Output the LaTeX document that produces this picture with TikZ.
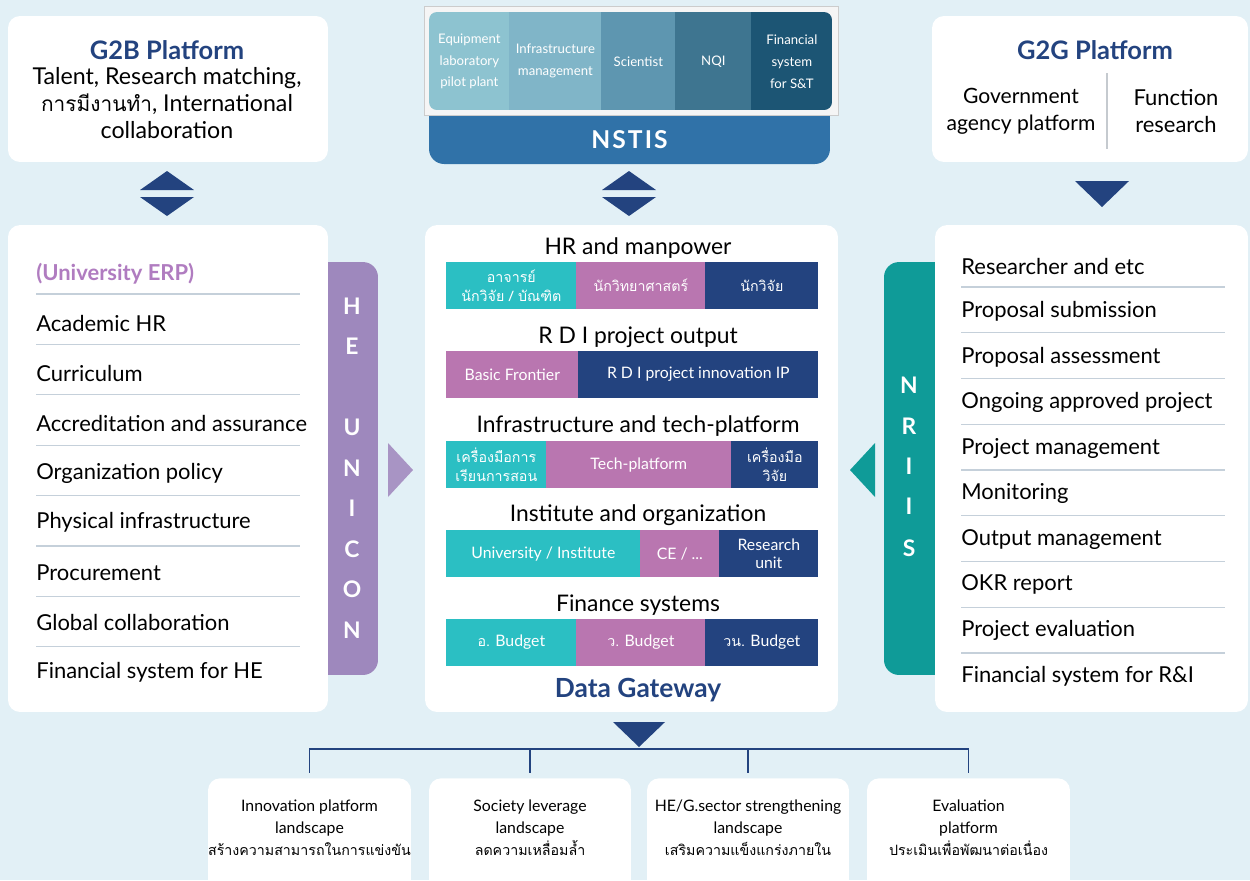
\documentclass[tikz,border=0pt]{standalone}
\usepackage{fontspec}
\setmainfont{Lato}
\newfontfamily\thai[Script=Thai,Scale=0.9]{Loma}
\usepackage{tikz}

% Couleurs du schéma
\definecolor{fond}{RGB}{226,240,246}
\definecolor{marine}{RGB}{35,67,127}
\definecolor{turq}{RGB}{43,191,195}
\definecolor{mauve}{RGB}{185,118,176}
\definecolor{lilas}{RGB}{158,136,189}
\definecolor{vertd}{RGB}{15,155,152}
\definecolor{erp}{RGB}{176,124,192}
\definecolor{bleuns}{RGB}{48,114,168}
\definecolor{gris}{RGB}{197,208,218}
\definecolor{celA}{RGB}{141,195,208}
\definecolor{celB}{RGB}{128,181,200}
\definecolor{celC}{RGB}{94,150,176}
\definecolor{celD}{RGB}{62,117,144}
\definecolor{celE}{RGB}{28,85,116}

\begin{document}
\begin{tikzpicture}[x=0.02cm,y=-0.02cm,
    boite/.style={fill=white,rounded corners=0.24cm,inner sep=0pt},
    titre/.style={font=\fontsize{14.5}{17}\selectfont\bfseries,text=marine,inner sep=0pt},
    texte/.style={font=\fontsize{13.2}{15.4}\selectfont,align=center,inner sep=0pt},
    liste/.style={font=\fontsize{12.5}{15}\selectfont,anchor=west,inner sep=0pt},
    filet/.style={draw=gris,line width=0.6pt},
    rang/.style={font=\fontsize{13}{15}\selectfont,inner sep=0pt},
    cell/.style={anchor=north west,text=white,font=\fontsize{9}{10.5}\selectfont,align=center,inner sep=0pt,minimum height=0.93cm},
    haut/.style={anchor=north west,text=white,font=\fontsize{7.5}{12.5}\selectfont,align=center,inner sep=0pt,minimum height=1.96cm},
    lettre/.style={text=white,font=\fontsize{13}{15}\selectfont\bfseries,inner sep=0pt},
    bas/.style={font=\fontsize{9}{12.5}\selectfont,align=center,inner sep=0pt},
    pointe/.style={fill=marine},
    lien/.style={draw=marine,line width=0.85pt,shorten >=0.1cm}]

  % Fond
  \useasboundingbox (0,0) rectangle (1250,880);
  \clip (0,0) rectangle (1250,880);
  \fill[fond] (0,0) rectangle (1250,880);

  % Bandeaux latéraux (sous les boîtes)
  \node[fill=lilas,rounded corners=0.3cm,minimum width=1.32cm,minimum height=8.26cm] (HeUn) at (345,468.5) {};
  \node[fill=vertd,rounded corners=0.3cm,minimum width=1.32cm,minimum height=8.26cm] (Nriis) at (917,468.5) {};

  % Boîtes blanches
  \node[boite,minimum width=6.4cm,minimum height=2.92cm] (G2B) at (168,89) {};
  \node[boite,minimum width=6.32cm,minimum height=2.92cm] (G2G) at (1090,89) {};
  \node[boite,minimum width=6.4cm,minimum height=9.74cm] (Erp) at (168,468.5) {};
  \node[boite,minimum width=8.26cm,minimum height=9.74cm] (Gw) at (631.5,468.5) {};
  \node[boite,minimum width=6.26cm,minimum height=9.74cm] (Ris) at (1091.5,468.5) {};

  % G2B
  \node[titre] (G2B_t) at (167,50) {G2B Platform};
  \node[texte] (G2B_x) at (167,103) {Talent, Research matching,\\{\thai การมีงานทำ}, International\\collaboration};

  % G2G
  \node[titre] (G2G_t) at (1095,50) {G2G Platform};
  \node[texte,font=\fontsize{12}{15.4}\selectfont] (G2G_a) at (1021,111) {Government\\agency platform};
  \node[texte,font=\fontsize{12.5}{15.4}\selectfont] (G2G_b) at (1176,111) {Function\\research};
  \draw[draw=gris!80!black!60,line width=0.6pt] (1107,73) -- (1107,149);

  % NSTIS
  \node[fill=bleuns,rounded corners=0.3cm,minimum width=8.02cm,minimum height=1.28cm,inner sep=0pt] (NSTIS) at (629.5,132) {};
  \node[fill=black!4,draw=black!20,minimum width=8.28cm,minimum height=2.18cm,inner sep=0pt] (Cadre) at (631,60.5) {};
  \node[text=white,font=\fontsize{14}{16}\selectfont\bfseries,inner sep=0pt] (NSTIS_t) at (629.5,140) {N\kern1.2pt S\kern1.2pt T\kern1.2pt I\kern1.2pt S};
  \begin{scope}
    \clip[rounded corners=0.16cm] (429,12) rectangle (832,110);
    \node[haut,fill=celA,minimum width=1.6cm] (C1) at (429,12) {Equipment\\laboratory\\pilot plant};
    \node[haut,fill=celB,minimum width=1.84cm] (C2) at (509,12) {Infrastructure\\management};
    \node[haut,fill=celC,minimum width=1.48cm] (C3) at (601,12) {Scientist};
    \node[haut,fill=celD,minimum width=1.52cm] (C4) at (675,12) {NQI};
    \node[haut,fill=celE,minimum width=1.62cm] (C5) at (751,12) {Financial\\system\\for S\&T};
  \end{scope}

  % Flèches triangulaires
  \fill[pointe] (140,190) -- (167,171) -- (194,190) -- cycle;
  \fill[pointe] (140,197) -- (194,197) -- (167,216) -- cycle;
  \fill[pointe] (602,190) -- (629,171) -- (656,190) -- cycle;
  \fill[pointe] (602,197) -- (656,197) -- (629,216) -- cycle;
  \fill[pointe] (1075,181) -- (1129,181) -- (1102,207) -- cycle;
  \fill[pointe] (613,722) -- (665,722) -- (639,747) -- cycle;
  \fill[lilas!90!white] (388,443) -- (413,470) -- (388,497) -- cycle;
  \fill[vertd] (875,443) -- (850,470) -- (875,497) -- cycle;

  % HE UNICON
  \foreach \l/\y [count=\i] in {H/306,E/346.5,U/427.5,N/468,I/508.5,C/549,O/589.5,N/630}
    \node[lettre] (U\i) at (352,\y) {\l};
  \foreach \l/\y [count=\i] in {N/385,R/426,I/466,I/506,S/548}
    \node[lettre] (R\i) at (909,\y) {\l};

  % Liste de gauche
  \node[liste,text=erp,font=\fontsize{12.5}{15}\selectfont\bfseries] (he0) at (36,274) {(University ERP)};
  \foreach \t [count=\i] in {Academic HR,Curriculum,Accreditation and assurance,Organization policy,Physical infrastructure,Procurement,Global collaboration,Financial system for HE}
    \node[liste] (he\i) at (36,274+49.75*\i) {\t};
  \foreach \k in {0,...,7}
    \draw[filet] (36,294+50.4*\k) -- (300,294+50.4*\k);

  % Liste de droite
  \foreach \t [count=\i from 0] in {Researcher and etc,Proposal submission,Proposal assessment,Ongoing approved project,Project management,Monitoring,Output management,OKR report,Project evaluation,Financial system for R\&I}
    \node[liste] (ri\i) at (961,266+45.55*\i) {\t};
  \foreach \k in {0,...,8}
    \draw[filet] (961,287+45.75*\k) -- (1225,287+45.75*\k);

  % Data Gateway
  \node[rang] (L1) at (638,248) {HR and manpower};
  \node[cell,fill=turq,minimum width=2.6cm] (L1a) at (446,262) {{\thai อาจารย์}\\{\thai นักวิจัย / บัณฑิต}};
  \node[cell,fill=mauve,minimum width=2.58cm] (L1b) at (576,262) {\thai นักวิทยาศาสตร์};
  \node[cell,fill=marine,minimum width=2.26cm] (L1c) at (705,262) {\thai นักวิจัย};

  \node[rang] (L2) at (638,337) {R D I project output};
  \node[cell,fill=mauve,minimum width=2.64cm] (L2a) at (446,351) {Basic Frontier};
  \node[cell,fill=marine,minimum width=4.8cm] (L2b) at (578,351) {R D I project innovation IP};

  \node[rang] (L3) at (638,426) {Infrastructure and tech-platform};
  \node[cell,fill=turq,minimum width=2.0cm] (L3a) at (446,441) {{\thai เครื่องมือการ}\\{\thai เรียนการสอน}};
  \node[cell,fill=mauve,minimum width=3.7cm] (L3b) at (546,441) {Tech-platform};
  \node[cell,fill=marine,minimum width=1.74cm] (L3c) at (731,441) {{\thai เครื่องมือ}\\{\thai วิจัย}};

  \node[rang] (L4) at (638,515) {Institute and organization};
  \node[cell,fill=turq,minimum width=3.88cm] (L4a) at (446,530) {University / Institute};
  \node[cell,fill=mauve,minimum width=1.58cm] (L4b) at (640,530) {CE / ...};
  \node[cell,fill=marine,minimum width=1.98cm] (L4c) at (719,530) {Research\\unit};

  \node[rang] (L5) at (638,605) {Finance systems};
  \node[cell,fill=turq,minimum width=2.6cm] (L5a) at (446,619) {{\thai อ.} Budget};
  \node[cell,fill=mauve,minimum width=2.58cm] (L5b) at (576,619) {{\thai ว.} Budget};
  \node[cell,fill=marine,minimum width=2.26cm] (L5c) at (705,619) {{\thai วน.} Budget};

  \node[titre,font=\fontsize{15}{17}\selectfont\bfseries] (DG) at (638,690) {Data Gateway};

  % Boîtes du bas
  \node[boite,minimum width=4.06cm,minimum height=2.3cm,anchor=north] (Bx_1) at (309.5,778) {};
  \node[boite,minimum width=4.04cm,minimum height=2.3cm,anchor=north] (Bx_2) at (530,778) {};
  \node[boite,minimum width=4.04cm,minimum height=2.3cm,anchor=north] (Bx_3) at (748,778) {};
  \node[boite,minimum width=4.06cm,minimum height=2.3cm,anchor=north] (Bx_4) at (968.5,778) {};
  \node[bas] (Bt_1) at (309.5,828) {Innovation platform\\landscape\\{\thai สร้างความสามารถในการแข่งขัน}};
  \node[bas] (Bt_2) at (530,828) {Society leverage\\landscape\\{\thai ลดความเหลื่อมล้ำ}};
  \node[bas] (Bt_3) at (748,828) {HE/G.sector strengthening\\landscape\\{\thai เสริมความแข็งแกร่งภายใน}};
  \node[bas] (Bt_4) at (968.5,828) {Evaluation\\platform\\{\thai ประเมินเพื่อพัฒนาต่อเนื่อง}};

  % Arborescence
  \coordinate (Nd) at (639,749);
  \foreach \b in {Bx_1,Bx_2,Bx_3,Bx_4}
    \draw[lien] (Nd) -| (\b.north);
\end{tikzpicture}
\end{document}
